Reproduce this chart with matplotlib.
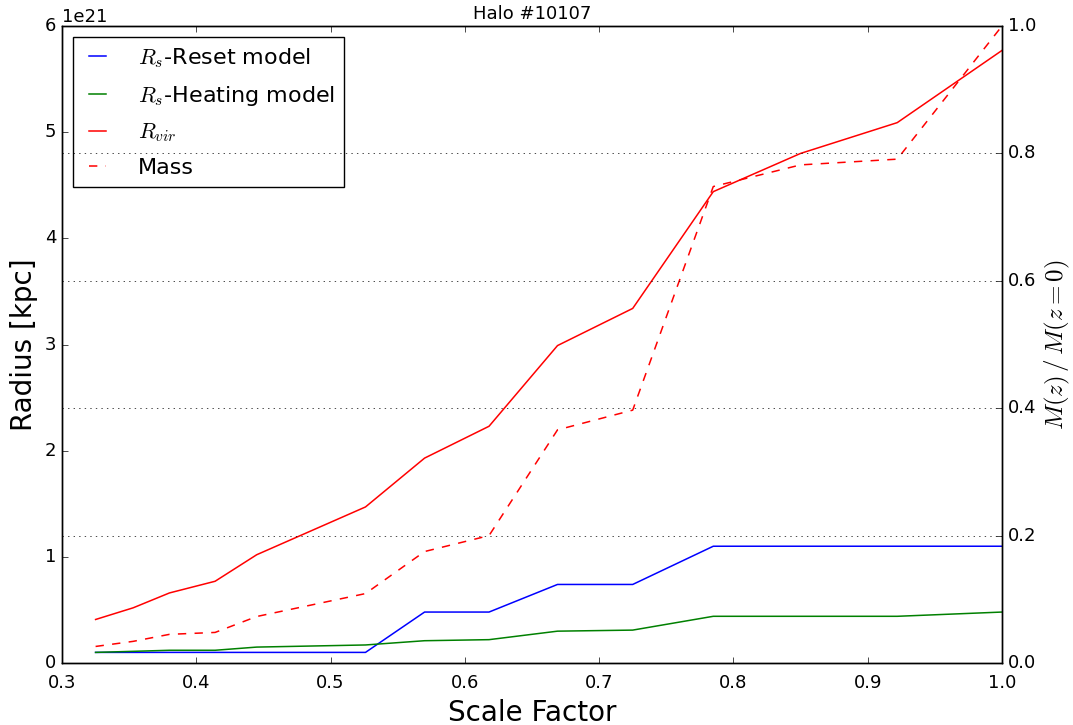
import numpy as np
import matplotlib
matplotlib.use('Agg')
import matplotlib.pyplot as plt

plt.style.use('classic')

# scale factor of each snapshot
scale_factor = [0.325, 0.353, 0.380, 0.414, 0.445, 0.526, 0.570, 0.618,
                0.669, 0.725, 0.785, 0.850, 0.922, 1.0]

# radii in units of 1e21
r_vir = [0.41, 0.52, 0.66, 0.77, 1.02, 1.47, 1.93, 2.23, 2.99, 3.34,
         4.44, 4.80, 5.09, 5.77]
rs_reset = [0.10, 0.10, 0.10, 0.10, 0.10, 0.10, 0.48, 0.48, 0.74, 0.74,
            1.10, 1.10, 1.10, 1.10]
rs_heating = [0.10, 0.11, 0.12, 0.12, 0.15, 0.17, 0.21, 0.22, 0.30, 0.31,
              0.44, 0.44, 0.44, 0.48]

# M(z)/M(z=0)
mass_frac = [0.026, 0.034, 0.045, 0.048, 0.073, 0.109, 0.175, 0.200,
             0.366, 0.397, 0.748, 0.782, 0.791, 1.0]

halo_id = 10107

a = np.array(scale_factor)
unit = 1e21

fig = plt.figure(figsize=(10.73, 7.25), dpi=100)
ax = fig.add_axes([0.0578, 0.0855, 0.876, 0.8786])
ax2 = ax.twinx()

l1, = ax.plot(a, np.array(rs_reset) * unit, color='b', lw=1.1, label=r'$R_s$-Reset model')
l2, = ax.plot(a, np.array(rs_heating) * unit, color='g', lw=1.1, label=r'$R_s$-Heating model')
l3, = ax.plot(a, np.array(r_vir) * unit, color='r', lw=1.1, label=r'$R_{vir}$')
l4, = ax2.plot(a, mass_frac, color='r', lw=1.1, linestyle='--', label='Mass')

ax.set_xlim(0.3, 1.0)
ax.set_ylim(0, 6e21)
ax2.set_ylim(0, 1.0)
ax2.yaxis.grid(True)

ax.set_xlabel('Scale Factor', fontsize=20)
ax.set_ylabel('Radius [kpc]', fontsize=20)
ax2.set_ylabel(r'$M(z)\,/\,M(z=0)$', fontsize=18)
ax.set_title('Halo #%d' % halo_id, fontsize=13)

for axis in (ax, ax2):
    axis.tick_params(labelsize=13)
ax.tick_params(axis='x', pad=8)
ax.yaxis.get_offset_text().set_fontsize(13)

ax.legend(handles=[l1, l2, l3, l4], loc='upper left', fontsize=16,
          handlelength=1.4, handletextpad=1.1, labelspacing=0.62)

plt.savefig('out.png', dpi=100)
